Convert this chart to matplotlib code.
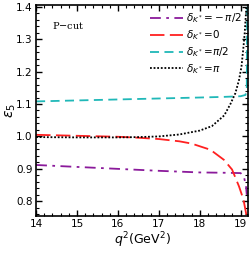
import numpy as np
import matplotlib.pyplot as plt
from matplotlib.ticker import MultipleLocator

# values
q2_purple = [14.0, 15.0, 16.0, 17.0, 18.0, 18.6, 19.0, 19.08, 19.13, 19.15]
eps_purple = [0.912, 0.906, 0.900, 0.894, 0.889, 0.888, 0.887, 0.876, 0.848, 0.82]

q2_red = [14.0, 15.0, 16.0, 16.5, 17.0, 17.5, 17.8, 18.26, 18.59, 18.79, 18.96, 19.07, 19.13, 19.15]
eps_red = [1.005, 1.002, 0.999, 0.996, 0.992, 0.985, 0.978, 0.959, 0.928, 0.898, 0.846, 0.805, 0.765, 0.75]

q2_cyan = [14.0, 15.0, 16.0, 17.0, 18.0, 18.6, 19.0, 19.12, 19.15, 19.16]
eps_cyan = [1.108, 1.111, 1.114, 1.117, 1.120, 1.122, 1.124, 1.128, 1.15, 1.4]

q2_black = [14.0, 15.0, 16.0, 16.5, 17.0, 17.5, 18.0, 18.3, 18.6, 18.75, 18.87, 18.96, 19.02, 19.07, 19.1, 19.14]
eps_black = [0.998, 0.997, 0.997, 0.998, 1.000, 1.006, 1.018, 1.032, 1.065, 1.10, 1.133, 1.174, 1.215, 1.277, 1.32, 1.40]

labels = [r'$\delta_{K^*}\!=\!-\pi/2$', r'$\delta_{K^*}\!=\!0$',
          r'$\delta_{K^*}\!=\!\pi/2$', r'$\delta_{K^*}\!=\!\pi$']

fig = plt.figure(figsize=(2.49, 2.54), dpi=100)
ax = fig.add_axes([0.145, 0.15, 0.851, 0.83])

ax.plot(q2_purple, eps_purple, color='#8b1a9b', lw=1.3, dashes=(6, 3, 1.5, 3), label=labels[0])
ax.plot(q2_red, eps_red, color='#ff2020', lw=1.3, dashes=(8, 3), label=labels[1])
ax.plot(q2_cyan, eps_cyan, color='#20b8b8', lw=1.3, dashes=(5, 3), label=labels[2])
ax.plot(q2_black, eps_black, color='black', lw=1.3, linestyle=(0, (1, 1)), label=labels[3])

ax.set_xlim(14, 19.18)
ax.set_ylim(0.755, 1.405)
ax.xaxis.set_major_locator(MultipleLocator(1))
ax.xaxis.set_minor_locator(MultipleLocator(0.2))
ax.yaxis.set_major_locator(MultipleLocator(0.1))
ax.yaxis.set_minor_locator(MultipleLocator(0.02))
ax.tick_params(which='both', direction='in', top=True, right=True, labelsize=7.5)
ax.tick_params(which='major', length=4, width=1, pad=2.5)
ax.tick_params(which='minor', length=2, width=0.8)
for s in ax.spines.values():
    s.set_linewidth(1.2)

ax.set_xlabel(r'$q^2(\mathrm{GeV}^2)$', fontsize=9, labelpad=1)
ax.set_ylabel(r'$\epsilon_5$', fontsize=10)
ax.yaxis.set_label_coords(-0.085, 0.5)
ax.text(14.4, 1.33, 'P$-$cut', fontsize=7, family='serif')

ax.legend(loc='upper right', fontsize=7.5, frameon=False, handlelength=3.2,
          handletextpad=0.3, labelspacing=0.3, borderaxespad=0.2)

fig.savefig('out.png', dpi=100)
